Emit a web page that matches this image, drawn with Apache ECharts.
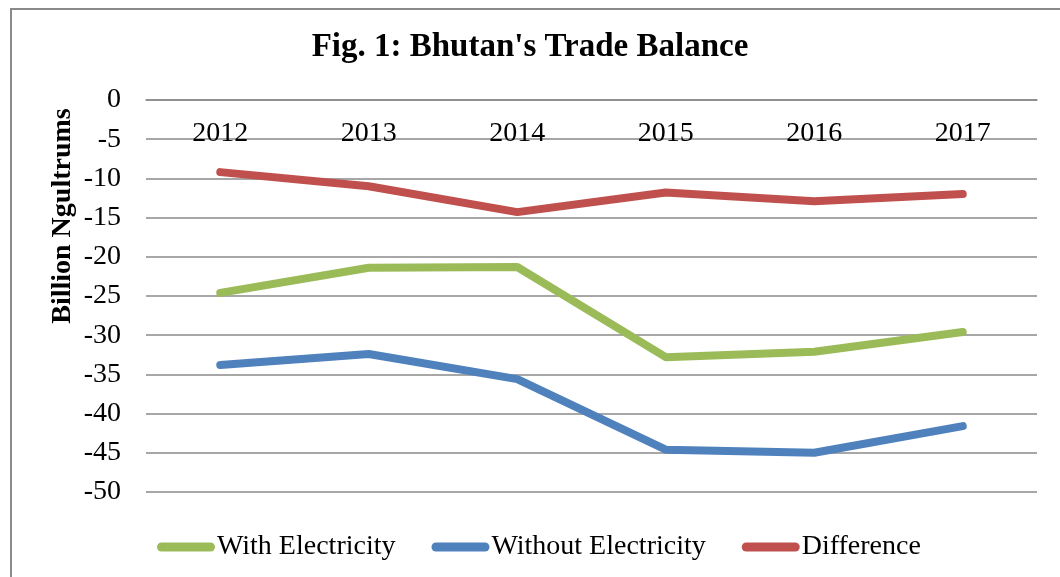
<!DOCTYPE html>
<html>
<head>
<meta charset="utf-8">
<script src="https://cdn.jsdelivr.net/npm/echarts@6/dist/echarts.min.js"></script>
<style>
  html, body { margin: 0; padding: 0; background: #fff; }
  #chart { width: 1060px; height: 577px; }
</style>
</head>
<body>
<div id="chart"></div>
<script>
    var years = ['2012', '2013', '2014', '2015', '2016', '2017'];
    var withElec = [-24.6, -21.4, -21.3, -32.8, -32.1, -29.6];
    var withoutElec = [-33.8, -32.4, -35.6, -44.6, -45.0, -41.6];
    var diff = [-9.2, -11.0, -14.3, -11.8, -12.9, -12.0];
    var seriesNames = ['With Electricity', 'Without Electricity', 'Difference'];

    var fontFam = '"Liberation Serif", "DejaVu Serif", serif';
    var gridColor = '#8a8a8a';

    var chart = echarts.init(document.getElementById('chart'));

    function lineSeries(name, data, color) {
        return {
            name: name,
            type: 'line',
            data: data,
            symbol: 'none',
            smooth: false,
            lineStyle: { width: 8, color: color, cap: 'round', join: 'round' },
            itemStyle: { color: color }
        };
    }

    var option = {
        animation: false,
        title: {
            text: "Fig. 1: Bhutan's Trade Balance",
            left: 'center',
            top: 31,
            padding: [0, 0, 0, 30],
            textStyle: { fontFamily: fontFam, fontSize: 33, fontWeight: 'bold', color: '#000' }
        },
        graphic: [
            {   // outer border of the chart area
                type: 'rect',
                shape: { x: 11, y: 9, width: 1100, height: 620 },
                style: { fill: 'none', stroke: gridColor, lineWidth: 2 },
                silent: true
            },
            {
                type: 'text',
                x: 63,
                y: 216,
                rotation: Math.PI / 2,
                style: {
                    text: 'Billion Ngultrums',
                    font: 'bold 28px ' + fontFam,
                    fill: '#000',
                    textAlign: 'center',
                    textVerticalAlign: 'middle'
                }
            }
        ],
        legend: {
            data: seriesNames,
            left: 152,
            top: 528,
            itemWidth: 58,
            itemHeight: 9,
            itemGap: 36,
            icon: 'path://M4.5,0 H53.5 A4.5,4.5 0 0 1 53.5,9 H4.5 A4.5,4.5 0 0 1 4.5,0 Z',
            textStyle: { fontFamily: fontFam, fontSize: 28, color: '#000', padding: [0, 0, 0, -3] }
        },
        grid: {
            left: 146,
            right: 23,
            top: 100,
            bottom: 85
        },
        xAxis: {
            type: 'category',
            position: 'top',
            data: years,
            boundaryGap: true,
            axisLine: { lineStyle: { color: gridColor, width: 1.5 } },
            axisTick: { show: false },
            axisLabel: { inside: true, margin: 20, fontFamily: fontFam, fontSize: 28, color: '#000' },
            splitLine: { show: false }
        },
        yAxis: {
            type: 'value',
            min: -50,
            max: 0,
            interval: 5,
            axisLine: { show: false },
            axisTick: { show: false },
            axisLabel: { margin: 25, fontFamily: fontFam, fontSize: 28, color: '#000' },
            splitLine: { lineStyle: { color: gridColor, width: 1.5 } }
        },
        series: [
            lineSeries(seriesNames[0], withElec, '#9bbb59'),
            lineSeries(seriesNames[1], withoutElec, '#4f81bd'),
            lineSeries(seriesNames[2], diff, '#c0504d')
        ]
    };
    chart.setOption(option);
</script>
</body>
</html>
